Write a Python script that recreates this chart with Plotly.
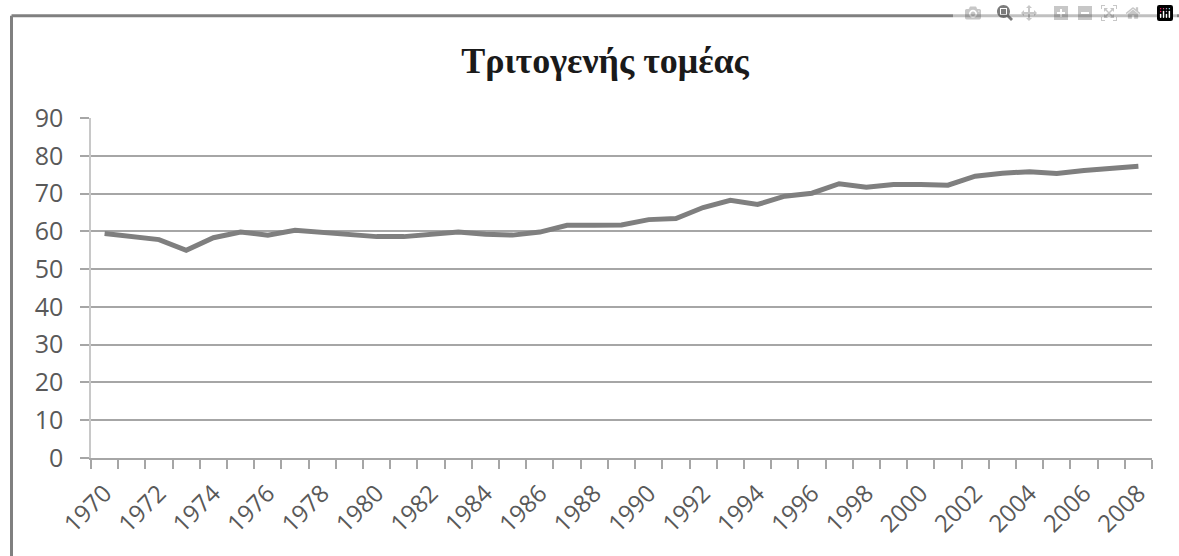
import plotly.graph_objects as go

years = list(range(1970, 2009))
values = [59.4, 58.6, 57.8, 55.0, 58.3, 59.8, 59.0, 60.3, 59.7, 59.2,
          58.6, 58.6, 59.2, 59.8, 59.2, 59.0, 59.8, 61.6, 61.6, 61.7,
          63.1, 63.4, 66.3, 68.2, 67.1, 69.3, 70.1, 72.6, 71.7, 72.4,
          72.4, 72.2, 74.6, 75.4, 75.8, 75.3, 76.1, 76.5, 77.2]
label_years = list(range(1970, 2009, 2))
y_ticks = list(range(0, 100, 10))
title_text = "Τριτογενής τομέας"

grey_text = "#595959"
grid_col = "#a6a6a6"
frame_col = "#808080"

W, H = 1179, 556
L, T = 91, 118
PW, PH = 1061, 340

fig = go.Figure()
fig.add_trace(go.Scatter(x=years, y=values, mode="lines",
                         line=dict(color="#7f7f7f", width=5),
                         hoverinfo="x+y", showlegend=False))

fig.update_layout(
    width=W, height=H,
    margin=dict(l=L, r=W - L - PW, t=T, b=H - T - PH, autoexpand=False),
    paper_bgcolor="white", plot_bgcolor="white",
    title=dict(text=title_text, x=605 / W, xanchor="center", xref="container",
               y=1 - 60 / H, yanchor="middle", yref="container",
               font=dict(family="Liberation Serif", size=36, color="#1a1a1a", weight="bold")),
    xaxis=dict(range=[1969.5, 2008.5], tickmode="array", tickvals=label_years,
               ticktext=[str(y) for y in label_years], tickangle=-45,
               ticks="", showgrid=False, zeroline=False, ticklabelstandoff=10,
               automargin=False,
               showline=True, linecolor=grid_col, linewidth=1.5,
               tickfont=dict(family="Open Sans", size=24, color=grey_text),
               minor=dict(tickmode="linear", tick0=1969.5, dtick=1, ticks="outside",
                          ticklen=9, tickcolor=grid_col, tickwidth=1.5, showgrid=False)),
    yaxis=dict(range=[0, 90], tickmode="array", tickvals=y_ticks,
               ticks="outside", ticklen=9, tickcolor=grid_col, tickwidth=1.5,
               ticklabelstandoff=12, automargin=False,
               showgrid=True, gridcolor=grid_col, gridwidth=1.5, zeroline=False,
               showline=True, linecolor="#c8c8c8", linewidth=1.5,
               tickfont=dict(family="Open Sans", size=25, color=grey_text)),
    shapes=[
        dict(type="line", xref="paper", yref="paper",
             x0=(11.5 - L) / PW, x1=(11.5 - L) / PW,
             y0=-(H - T - PH + 5) / PH, y1=(T + PH - 15.7) / PH,
             line=dict(color=frame_col, width=3), layer="below"),
        dict(type="line", xref="paper", yref="paper",
             x0=(11.5 - L) / PW, x1=(W + 5 - L) / PW,
             y0=(T + PH - 15.7) / PH, y1=(T + PH - 15.7) / PH,
             line=dict(color=frame_col, width=3), layer="below"),
    ],
)

page_js = ("document.documentElement.style.margin='0';"
           "document.documentElement.style.overflow='hidden';"
           "document.body.style.margin='0';"
           "document.body.style.overflow='hidden';")

fig.write_html("out.html", post_script=page_js)
